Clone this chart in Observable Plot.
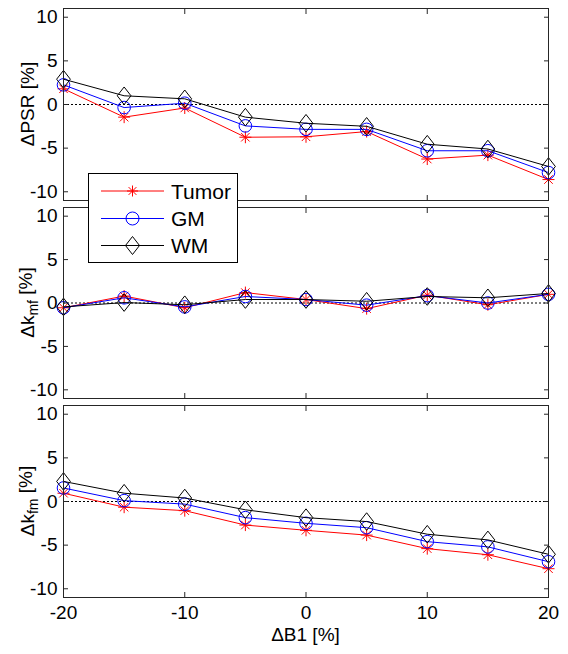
<!DOCTYPE html>
<html><head><meta charset="utf-8">
<script src="https://cdn.jsdelivr.net/npm/d3@7"></script>
<script src="https://cdn.jsdelivr.net/npm/@observablehq/plot@0.6"></script>
<style>
body{margin:0;background:#fff;}
#chart{position:relative;width:568px;height:654px;font-family:"Liberation Sans",Arial,sans-serif;}
#chart svg{display:block;}
#legend{position:absolute;left:88px;top:173px;width:148px;height:88px;border:1px solid #000;background:#fff;}
</style></head><body><div id="chart"></div>
<script>
// ---- data ----
const dB1 = [-20, -15, -10, -5, 0, 5, 10, 15, 20];
const seriesNames = ["Tumor", "GM", "WM"];
const xTicks = [-20, -10, 0, 10, 20];
const yTicks = [-10, -5, 0, 5, 10];

const psrTumor = [1.8, -1.45, -0.4, -3.75, -3.7, -3.1, -6.25, -5.8, -8.6];
const psrGM    = [2.25, -0.35, 0.15, -2.45, -2.85, -2.85, -5.3, -5.3, -7.8];
const psrWM    = [2.9, 1.0, 0.65, -1.45, -2.15, -2.5, -4.55, -5.1, -7.1];

const kmfTumor = [-0.55, 0.8, -0.55, 1.2, 0.4, -0.65, 0.9, -0.2, 1.0];
const kmfGM    = [-0.55, 0.6, -0.45, 0.75, 0.4, -0.25, 0.85, 0.0, 1.0];
const kmfWM    = [-0.45, 0.05, -0.2, 0.4, 0.4, 0.2, 0.75, 0.6, 1.1];

const kfmTumor = [0.95, -0.65, -1.05, -2.7, -3.3, -3.85, -5.4, -6.1, -7.7];
const kfmGM    = [1.55, 0.1, -0.3, -1.85, -2.5, -3.0, -4.6, -5.2, -6.9];
const kfmWM    = [2.3, 0.95, 0.4, -0.95, -1.85, -2.3, -3.75, -4.4, -6.05];

// ---- styles ----
const asterisk = {draw(ctx, size){ const r = Math.sqrt(size/Math.PI), d = r*Math.SQRT1_2;
  ctx.moveTo(-r,0);ctx.lineTo(r,0);ctx.moveTo(0,-r);ctx.lineTo(0,r);
  ctx.moveTo(-d,-d);ctx.lineTo(d,d);ctx.moveTo(-d,d);ctx.lineTo(d,-d);}};
const diamond = {draw(ctx, size){ const h = Math.sqrt(size/Math.PI), w = h*0.78;
  ctx.moveTo(0,-h);ctx.lineTo(w,0);ctx.lineTo(0,h);ctx.lineTo(-w,0);ctx.closePath();}};
const colors = {Tumor:"#ff0000", GM:"#0000ff", WM:"#000000"};
const symbols = {Tumor:asterisk, GM:"circle", WM:diamond};
const radii = {Tumor:6, GM:6.3, WM:8.8};
const legendRadii = {Tumor:5.5, GM:6.5, WM:9};
const axisColor = "#262626";
const font = '"Liberation Sans", Arial, sans-serif';
const fmt = d => String(d);

const panels = [
  {label:["ΔPSR", "", " [%]"], values:{Tumor:psrTumor, GM:psrGM, WM:psrWM}, height:204, mt:8, mb:4, showX:false},
  {label:["Δk", "mf", " [%]"], values:{Tumor:kmfTumor, GM:kmfGM, WM:kmfWM}, height:197, mt:3, mb:3, showX:false},
  {label:["Δk", "fm", " [%]"], values:{Tumor:kfmTumor, GM:kfmGM, WM:kfmWM}, height:253, mt:4, mb:57, showX:true}
];

const chart = document.getElementById("chart");

for (const p of panels) {
  const rows = seriesNames.flatMap(s => dB1.map((x, i) => ({x, y: p.values[s][i], s})));
  const marks = [
    Plot.ruleY([0], {stroke:"#000", strokeDasharray:"2,2", strokeWidth:1}),
    ...seriesNames.flatMap(s => [
      Plot.line(rows.filter(d => d.s === s), {x:"x", y:"y", stroke:colors[s], strokeWidth:1}),
      Plot.dot(rows.filter(d => d.s === s), {x:"x", y:"y", stroke:colors[s], fill:"none", symbol:symbols[s], r:radii[s], strokeWidth:1})
    ]),
    Plot.frame({stroke:axisColor}),
    Plot.axisY(yTicks, {anchor:"left", tickSize:-5, fill:"none", stroke:axisColor, label:null}),
    Plot.axisY(yTicks, {anchor:"right", tickSize:-5, fill:"none", stroke:axisColor, label:null}),
    Plot.axisX(xTicks, {anchor:"bottom", tickSize:-5, fill:"none", stroke:axisColor, label:null}),
    Plot.axisX(xTicks, {anchor:"top", tickSize:-5, fill:"none", stroke:axisColor, label:null}),
    Plot.axisY(yTicks, {anchor:"left", tickSize:0, tickPadding:6, label:null, fill:"#000", tickFormat:fmt})
  ];
  if (p.showX) marks.push(Plot.axisX(xTicks, {anchor:"bottom", tickSize:0, tickPadding:8, label:null, fill:"#000", tickFormat:fmt}));
  const svg = Plot.plot({
    width:568, height:p.height,
    marginLeft:63, marginRight:20, marginTop:p.mt, marginBottom:p.mb,
    x:{domain:[-20, 20]},
    y:{domain:[-11, 11]},
    style:{fontFamily:font, fontSize:"19px", background:"#fff", overflow:"visible", color:"#000"},
    marks
  });
  const cy = p.mt + (p.height - p.mt - p.mb) / 2;
  const t = d3.select(svg).append("text")
    .attr("transform", `translate(27,${cy}) rotate(-90)`)
    .attr("text-anchor", "middle").attr("dy", "0.35em")
    .attr("font-family", font).attr("font-size", 19).attr("fill", "#000");
  t.append("tspan").text(p.label[0]);
  if (p.label[1]) {
    t.append("tspan").attr("dy", "0.3em").attr("font-size", 14).text(p.label[1]);
    t.append("tspan").attr("dy", "-0.3em").text(p.label[2]);
  } else {
    t.append("tspan").text(p.label[2]);
  }
  if (p.showX) {
    d3.select(svg).append("text")
      .attr("x", (63 + 548) / 2).attr("y", 240)
      .attr("text-anchor", "middle").attr("font-family", font).attr("font-size", 19).attr("fill", "#000")
      .text("ΔB1 [%]");
  }
  chart.appendChild(svg);
}

// legend
const legend = d3.select(chart).append("div").attr("id", "legend");
const lsvg = legend.append("svg").attr("width", 148).attr("height", 88);
const rowsY = [17, 44.5, 71.5];
seriesNames.forEach((s, i) => {
  const g = lsvg.append("g").attr("transform", `translate(0,${rowsY[i]})`);
  g.append("line").attr("x1", 12).attr("x2", 75).attr("stroke", colors[s]).attr("stroke-width", 1);
  const sym = typeof symbols[s] === "string" ? d3.symbolCircle : symbols[s];
  g.append("path").attr("transform", "translate(43.5,0)")
    .attr("d", d3.symbol(sym, legendRadii[s] * legendRadii[s] * Math.PI)())
    .attr("fill", "none").attr("stroke", colors[s]).attr("stroke-width", 1);
  g.append("text").attr("x", 82).attr("dy", "0.36em")
    .attr("font-family", font).attr("font-size", 21).attr("fill", "#000").text(s);
});
</script>
</body></html>
